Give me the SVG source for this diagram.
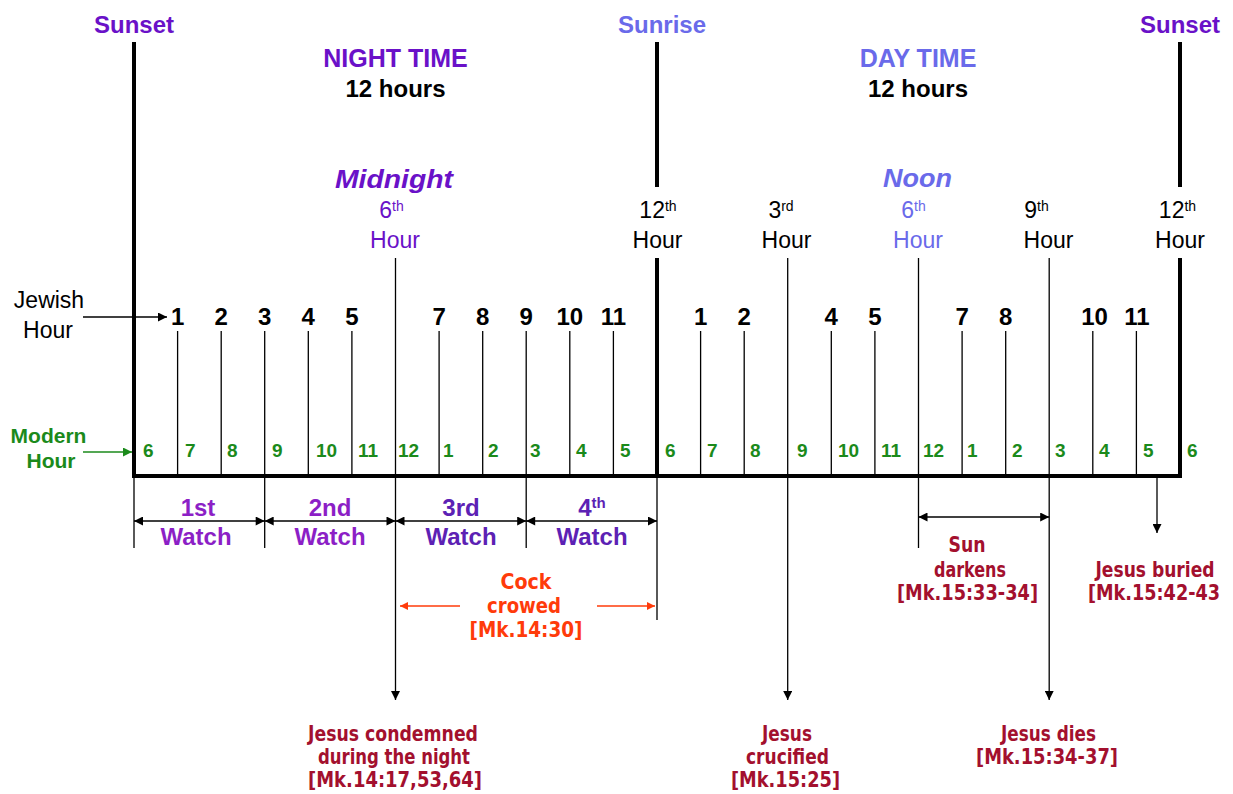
<svg xmlns="http://www.w3.org/2000/svg" width="1233" height="794" viewBox="0 0 1233 794">
<defs>
<style>
text{font-family:"Liberation Sans",Arial,sans-serif;text-anchor:middle}
.b{font-weight:bold}
.pur{fill:#6a11c8}
.lb{fill:#6a6aea}
.blk{fill:#000}
.hr{font-size:23px}
.sup{font-size:14px}
.jh{font-size:24px;font-weight:bold}
.mh{font-size:19px;font-weight:bold;fill:#1b8a1b;text-anchor:start}
.w12{fill:#8c1fc6;font-size:24px;font-weight:bold}
.w34{fill:#5c21b4;font-size:24px;font-weight:bold}
.ev{font-family:"Liberation Sans Narrow","DejaVu Sans Condensed",sans-serif;font-weight:bold;font-size:21px;fill:#a3102e}
.ck{font-family:"Liberation Sans Narrow","DejaVu Sans Condensed",sans-serif;font-weight:bold;font-size:21px;fill:#ff3b0a}
.thick{stroke:#000;stroke-width:4;fill:none}
.thin{stroke:#000;stroke-width:1.3;fill:none}
</style>
<marker id="ah" viewBox="0 0 10 10" refX="10" refY="5" markerWidth="10" markerHeight="9" markerUnits="userSpaceOnUse" orient="auto-start-reverse"><path d="M0,0 L10,5 L0,10 z" fill="#000"/></marker>
<marker id="ahg" viewBox="0 0 10 10" refX="10" refY="5" markerWidth="10" markerHeight="9" markerUnits="userSpaceOnUse" orient="auto"><path d="M0,0 L10,5 L0,10 z" fill="#1b8a1b"/></marker>
<marker id="aho" viewBox="0 0 10 10" refX="10" refY="5" markerWidth="10" markerHeight="8" markerUnits="userSpaceOnUse" orient="auto"><path d="M0,0 L10,5 L0,10 z" fill="#ff3b0a"/></marker>
</defs>
<rect width="1233" height="794" fill="#fff"/>

<g id="connectors">
<path class="thick" d="M134,42 V478 M132,476 H1182 M657,42 V187 M657,258 V476 M1180,42 V187 M1180,258 V478"/>
<path class="thin" d="M177.6,331 V476 M221.2,331 V476 M308.3,331 V476 M351.9,331 V476 M439.1,331 V476 M482.7,331 V476 M569.8,331 V476 M613.4,331 V476 M700.6,331 V476 M744.2,331 V476 M831.3,331 V476 M874.9,331 V476 M962.1,331 V476 M1005.7,331 V476 M1092.8,331 V476 M1136.4,331 V476"/>
<path class="thin" d="M134,476 V548 M264.7,331 V548 M526.2,331 V548 M657,476 V620 M918.5,258 V548"/>
<path class="thin" d="M395.5,258 V700" marker-end="url(#ah)"/>
<path class="thin" d="M787.7,258 V700" marker-end="url(#ah)"/>
<path class="thin" d="M1049.2,258 V700" marker-end="url(#ah)"/>
<path class="thin" d="M1157,476 V533" marker-end="url(#ah)"/>
<path class="thin" d="M134,521 H264.7" marker-start="url(#ah)" marker-end="url(#ah)"/>
<path class="thin" d="M264.7,521 H395.5" marker-start="url(#ah)" marker-end="url(#ah)"/>
<path class="thin" d="M395.5,521 H526.2" marker-start="url(#ah)" marker-end="url(#ah)"/>
<path class="thin" d="M526.2,521 H657" marker-start="url(#ah)" marker-end="url(#ah)"/>
<path class="thin" d="M918.5,517 H1049.2" marker-start="url(#ah)" marker-end="url(#ah)"/>
<path d="M460,606 H400" stroke="#ff3b0a" stroke-width="1.5" fill="none" marker-end="url(#aho)"/>
<path d="M597,606 H655" stroke="#ff3b0a" stroke-width="1.5" fill="none" marker-end="url(#aho)"/>
<path class="thin" d="M83,317 H167" marker-end="url(#ah)"/>
<path d="M83,452 H132" stroke="#1b8a1b" stroke-width="1.5" fill="none" marker-end="url(#ahg)"/>
</g>

<g id="headers">
<text class="b pur" x="134" y="33" font-size="24">Sunset</text>
<text class="b lb" x="662" y="33" font-size="24">Sunrise</text>
<text class="b pur" x="1180" y="33" font-size="24">Sunset</text>
<text class="b pur" x="395.5" y="67" font-size="25">NIGHT TIME</text>
<text class="b blk" x="395.5" y="97" font-size="24">12 hours</text>
<text class="b lb" x="918" y="67" font-size="25">DAY TIME</text>
<text class="b blk" x="918" y="97" font-size="24">12 hours</text>
</g>

<g id="hour-marks">
<text class="b pur" x="394" y="188" font-size="25" font-style="italic" textLength="118" lengthAdjust="spacingAndGlyphs">Midnight</text>
<text class="pur hr" x="391.5" y="218">6<tspan class="sup" dy="-7">th</tspan></text>
<text class="pur hr" x="395" y="248">Hour</text>
<text class="blk hr" x="658" y="218">12<tspan class="sup" dy="-7">th</tspan></text>
<text class="blk hr" x="657.5" y="248">Hour</text>
<text class="blk hr" x="781" y="218">3<tspan class="sup" dy="-7">rd</tspan></text>
<text class="blk hr" x="786.5" y="248">Hour</text>
<text class="b lb" x="917.5" y="187" font-size="25" font-style="italic" textLength="69" lengthAdjust="spacingAndGlyphs">Noon</text>
<text class="lb hr" x="913.5" y="218">6<tspan class="sup" dy="-7">th</tspan></text>
<text class="lb hr" x="918" y="248">Hour</text>
<text class="blk hr" x="1036.5" y="218">9<tspan class="sup" dy="-7">th</tspan></text>
<text class="blk hr" x="1048.5" y="248">Hour</text>
<text class="blk hr" x="1177.5" y="218">12<tspan class="sup" dy="-7">th</tspan></text>
<text class="blk hr" x="1180" y="248">Hour</text>
</g>

<g id="jewish-hours">
<text class="blk" x="49" y="308" font-size="23">Jewish</text>
<text class="blk" x="48" y="338" font-size="23">Hour</text>
<text class="jh" x="177.6" y="325">1</text>
<text class="jh" x="221.2" y="325">2</text>
<text class="jh" x="264.7" y="325">3</text>
<text class="jh" x="308.3" y="325">4</text>
<text class="jh" x="351.9" y="325">5</text>
<text class="jh" x="439.1" y="325">7</text>
<text class="jh" x="482.7" y="325">8</text>
<text class="jh" x="526.2" y="325">9</text>
<text class="jh" x="569.8" y="325">10</text>
<text class="jh" x="613.4" y="325">11</text>
<text class="jh" x="700.6" y="325">1</text>
<text class="jh" x="744.2" y="325">2</text>
<text class="jh" x="831.3" y="325">4</text>
<text class="jh" x="874.9" y="325">5</text>
<text class="jh" x="962.1" y="325">7</text>
<text class="jh" x="1005.7" y="325">8</text>
<text class="jh" x="1094.5" y="325">10</text>
<text class="jh" x="1137" y="325">11</text>
</g>

<g id="modern-hours">
<text class="b" x="48.5" y="443" font-size="21" fill="#1b8a1b">Modern</text>
<text class="b" x="51" y="468" font-size="21" fill="#1b8a1b">Hour</text>
<text class="mh" x="143" y="457">6</text>
<text class="mh" x="185" y="457">7</text>
<text class="mh" x="227" y="457">8</text>
<text class="mh" x="272" y="457">9</text>
<text class="mh" x="316" y="457">10</text>
<text class="mh" x="358" y="457">11</text>
<text class="mh" x="398" y="457">12</text>
<text class="mh" x="443" y="457">1</text>
<text class="mh" x="488" y="457">2</text>
<text class="mh" x="530" y="457">3</text>
<text class="mh" x="576" y="457">4</text>
<text class="mh" x="620" y="457">5</text>
<text class="mh" x="665" y="457">6</text>
<text class="mh" x="707" y="457">7</text>
<text class="mh" x="750" y="457">8</text>
<text class="mh" x="797" y="457">9</text>
<text class="mh" x="838" y="457">10</text>
<text class="mh" x="881" y="457">11</text>
<text class="mh" x="923" y="457">12</text>
<text class="mh" x="967" y="457">1</text>
<text class="mh" x="1012" y="457">2</text>
<text class="mh" x="1055" y="457">3</text>
<text class="mh" x="1099" y="457">4</text>
<text class="mh" x="1143" y="457">5</text>
<text class="mh" x="1187" y="457">6</text>
</g>

<g id="watches">
<text class="w12" x="198" y="516">1st</text>
<text class="w12" x="196" y="545">Watch</text>
<text class="w12" x="330" y="516">2nd</text>
<text class="w12" x="330" y="545">Watch</text>
<text class="w34" x="461" y="516">3rd</text>
<text class="w34" x="461" y="545">Watch</text>
<text class="w34" x="592" y="516">4<tspan font-size="15" dy="-8">th</tspan></text>
<text class="w34" x="592" y="545">Watch</text>
</g>

<g id="cock-crowed">
<text class="ck" x="526" y="589" textLength="51" lengthAdjust="spacingAndGlyphs">Cock</text>
<text class="ck" x="524" y="613" textLength="74" lengthAdjust="spacingAndGlyphs">crowed</text>
<text class="ck" x="526" y="637" textLength="113" lengthAdjust="spacingAndGlyphs">[Mk.14:30]</text>
</g>

<g id="sun-darkens">
<text class="ev" x="967" y="552" textLength="37" lengthAdjust="spacingAndGlyphs">Sun</text>
<text class="ev" x="970" y="577" textLength="72" lengthAdjust="spacingAndGlyphs">darkens</text>
<text class="ev" x="967.5" y="600" textLength="141" lengthAdjust="spacingAndGlyphs">[Mk.15:33-34]</text>
</g>

<g id="jesus-buried">
<text class="ev" x="1155" y="577" textLength="119" lengthAdjust="spacingAndGlyphs">Jesus buried</text>
<text class="ev" x="1154" y="600" textLength="132" lengthAdjust="spacingAndGlyphs">[Mk.15:42-43</text>
</g>

<g id="jesus-condemned">
<text class="ev" x="393" y="741" textLength="170" lengthAdjust="spacingAndGlyphs">Jesus condemned</text>
<text class="ev" x="394" y="764" textLength="152" lengthAdjust="spacingAndGlyphs">during the night</text>
<text class="ev" x="395" y="787" textLength="174" lengthAdjust="spacingAndGlyphs">[Mk.14:17,53,64]</text>
</g>

<g id="jesus-crucified">
<text class="ev" x="787" y="741" textLength="50" lengthAdjust="spacingAndGlyphs">Jesus</text>
<text class="ev" x="787.5" y="764" textLength="83" lengthAdjust="spacingAndGlyphs">crucified</text>
<text class="ev" x="785.5" y="787" textLength="109" lengthAdjust="spacingAndGlyphs">[Mk.15:25]</text>
</g>

<g id="jesus-dies">
<text class="ev" x="1048.5" y="741" textLength="95" lengthAdjust="spacingAndGlyphs">Jesus dies</text>
<text class="ev" x="1047" y="764" textLength="142" lengthAdjust="spacingAndGlyphs">[Mk.15:34-37]</text>
</g>
</svg>
